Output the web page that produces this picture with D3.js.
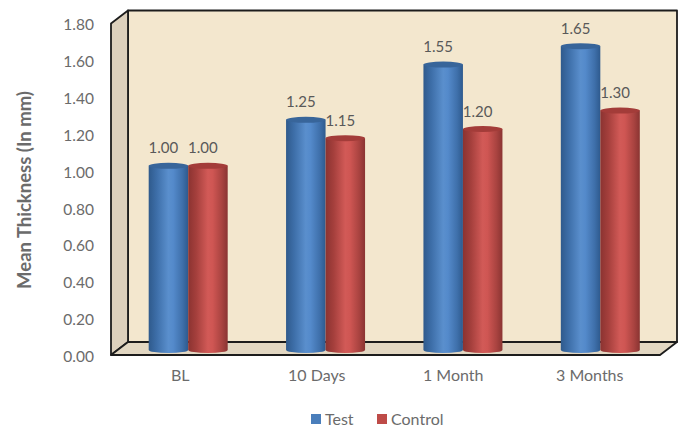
<!DOCTYPE html>
<html>
<head>
<meta charset="utf-8">
<script src="https://cdn.jsdelivr.net/npm/d3@7/dist/d3.min.js"></script>
<style>
html,body{margin:0;padding:0;background:#fff;}
text{font-family:Lato,"Open Sans",sans-serif;}
</style>
</head>
<body>
<svg id="chart" width="685" height="427"></svg>
<script>
const categories = ["BL", "10 Days", "1 Month", "3 Months"];
const seriesNames = ["Test", "Control"];
const testValues = [1.00, 1.25, 1.55, 1.65];
const controlValues = [1.00, 1.15, 1.20, 1.30];
const yTicks = [0, 0.2, 0.4, 0.6, 0.8, 1.0, 1.2, 1.4, 1.6, 1.8];
const seriesValues = [testValues, controlValues];

const svg = d3.select("#chart");
const defs = svg.append("defs");

// Front plane of the box and the depth offset to the back wall
const front = {left: 111, right: 660, top: 23.5, bottom: 355};
const depth = {dx: 17, dy: -13};

const y = d3.scaleLinear().domain([0, 1.8]).range([front.bottom, front.top]);
const labelX = d3.scaleBand().domain(categories).range([112, 658]);
const barGroupX = d3.scaleBand().domain(categories).range([119.5, 669]);
const barX = d3.scaleBand().domain(seriesNames).range([-39.5, 39.5]);
const barBaseShift = -5;

// Cylinder shading, one set per series
const palettes = {
  Test: {stops: ["#2f5a8c", "#3d6ea8", "#5a8fcd", "#548acb", "#3f70ab", "#2e5a8e"], top: "#38659a", solid: "#4a7ebb"},
  Control: {stops: ["#8b3331", "#a43f3c", "#d25a57", "#cf5653", "#a94340", "#8a3432"], top: "#a33c39", solid: "#be4b48"}
};
seriesNames.forEach(name => {
  const g = defs.append("linearGradient").attr("id", "cyl-" + name)
    .attr("x1", 0).attr("x2", 1).attr("y1", 0).attr("y2", 0);
  [0, 0.2, 0.5, 0.62, 0.85, 1].forEach((o, i) => {
    g.append("stop").attr("offset", o).attr("stop-color", palettes[name].stops[i]);
  });
});

// Box: back wall, side wall, floor
const back = {left: front.left + depth.dx, right: front.right + depth.dx,
              top: front.top + depth.dy, bottom: front.bottom + depth.dy};
const line = pts => "M" + pts.map(p => p.join(",")).join("L") + "Z";
const edge = {stroke: "#1c1c1c", "stroke-width": 1.8, "stroke-linejoin": "round"};
const applyEdge = s => Object.entries(edge).forEach(([k, v]) => s.attr(k, v));

applyEdge(svg.append("path").attr("fill", "#f3e7ce")
  .attr("d", line([[back.left, back.top], [back.right, back.top], [back.right, back.bottom], [back.left, back.bottom]])));
applyEdge(svg.append("path").attr("fill", "#dcd0bc")
  .attr("d", line([[front.left, front.top], [back.left, back.top], [back.left, back.bottom], [front.left, front.bottom]])));
applyEdge(svg.append("path").attr("fill", "#e2d7c2")
  .attr("d", line([[front.left, front.bottom], [back.left, back.bottom], [back.right, back.bottom], [front.right, front.bottom]])));

// Y axis labels only, no tick marks or domain line
const yAxis = d3.axisLeft(y).tickValues(yTicks).tickFormat(d3.format(".2f")).tickSize(0).tickPadding(17);
const yG = svg.append("g").attr("transform", `translate(${front.left},1.5)`).call(yAxis);
yG.select(".domain").remove();
yG.selectAll("text").attr("fill", "#6b6b6b").style("font-size", "15.5px")
  .style("font-family", "Lato,'Open Sans',sans-serif");

// X axis labels
const xAxis = d3.axisBottom(labelX).tickSize(0).tickPadding(15);
const xG = svg.append("g").attr("transform", `translate(0,${front.bottom})`).call(xAxis);
xG.select(".domain").remove();
xG.selectAll("text").attr("fill", "#6b6b6b").style("font-size", "16px")
  .style("font-family", "Lato,'Open Sans',sans-serif");

// Axis title
svg.append("text")
  .attr("transform", `translate(30.5,190) rotate(-90)`)
  .attr("text-anchor", "middle")
  .attr("fill", "#6b6b6b").style("font-size", "18.5px").style("font-weight", 700)
  .text("Mean Thickness (In mm)");

// Cylinders
const ry = 3;
const zero = y(0) + barBaseShift;
const scale = v => y(v) - y(0);
const rows = categories.flatMap((c, i) => seriesNames.map((s, j) => ({c, s, v: seriesValues[j][i]})));
const bars = svg.append("g").selectAll("g").data(rows).join("g");

bars.each(function(d) {
  const g = d3.select(this);
  const x0 = barGroupX(d.c) + barGroupX.bandwidth() / 2 + barX(d.s);
  const w = barX.bandwidth();
  const top = zero + scale(d.v);
  g.append("path")
    .attr("fill", `url(#cyl-${d.s})`)
    .attr("d", `M${x0},${top}L${x0},${zero}A${w / 2},${ry} 0 0 0 ${x0 + w},${zero}L${x0 + w},${top}Z`);
  g.append("ellipse")
    .attr("cx", x0 + w / 2).attr("cy", top).attr("rx", w / 2).attr("ry", ry)
    .attr("fill", palettes[d.s].top);
});

// Value labels
bars.append("text")
  .attr("x", d => barGroupX(d.c) + barGroupX.bandwidth() / 2 + barX(d.s) + barX.bandwidth() / 2 - 5)
  .attr("y", d => zero + scale(d.v) - 12.5)
  .attr("text-anchor", "middle")
  .attr("fill", "#595959").style("font-size", "15px")
  .text(d => d3.format(".2f")(d.v));

// Legend
const legendX = d3.scalePoint().domain(seriesNames).range([311, 377]);
const legend = svg.append("g").selectAll("g").data(seriesNames).join("g")
  .attr("transform", d => `translate(${legendX(d)},414)`);
legend.append("rect").attr("width", 10).attr("height", 10)
  .attr("fill", d => palettes[d].solid);
legend.append("text").attr("x", 14).attr("y", 10.5)
  .attr("fill", "#6b6b6b").style("font-size", "16px").text(d => d);
</script>
</body>
</html>
